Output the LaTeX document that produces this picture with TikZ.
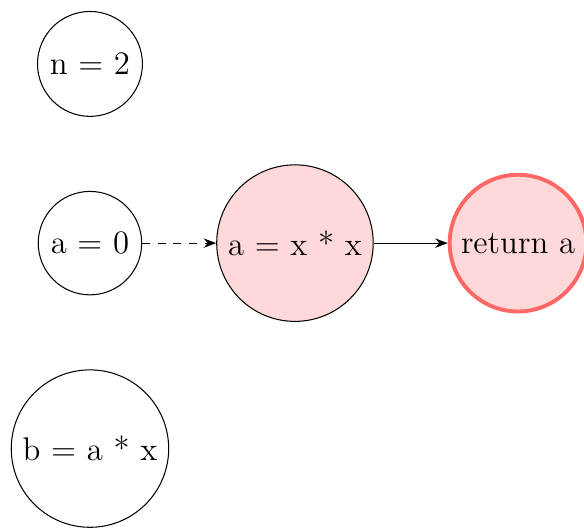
\documentclass[tikz,border=0pt]{standalone}
\usepackage{tikz}
\usetikzlibrary{arrows.meta, positioning}

\begin{document}
\begin{tikzpicture}[node distance=1cm, every node/.style={font=\fontsize{12.6}{15}\selectfont},
  var/.style={circle, draw},
  live/.style={var, fill=red!15},
  result/.style={live, draw=red!60, line width=1.5pt}]
\useasboundingbox (-34.6pt,-110.8pt) rectangle (190pt,93.5pt);
% variables of the program
\node[var] (a0) at (0,0) {a = 0};
\node[var, above=of a0] (n2) {n = 2};
\node[var, below=of a0] (b) {b = a * x};
% path to the return
\node[live, right=of a0] (ax) {a = x * x};
\node[result, right=of ax] (ret) {return a};
\draw[-{Stealth}, dashed] (a0) -- (ax);
\draw[-{Stealth}] (ax) -- (ret);
\end{tikzpicture}
\end{document}
